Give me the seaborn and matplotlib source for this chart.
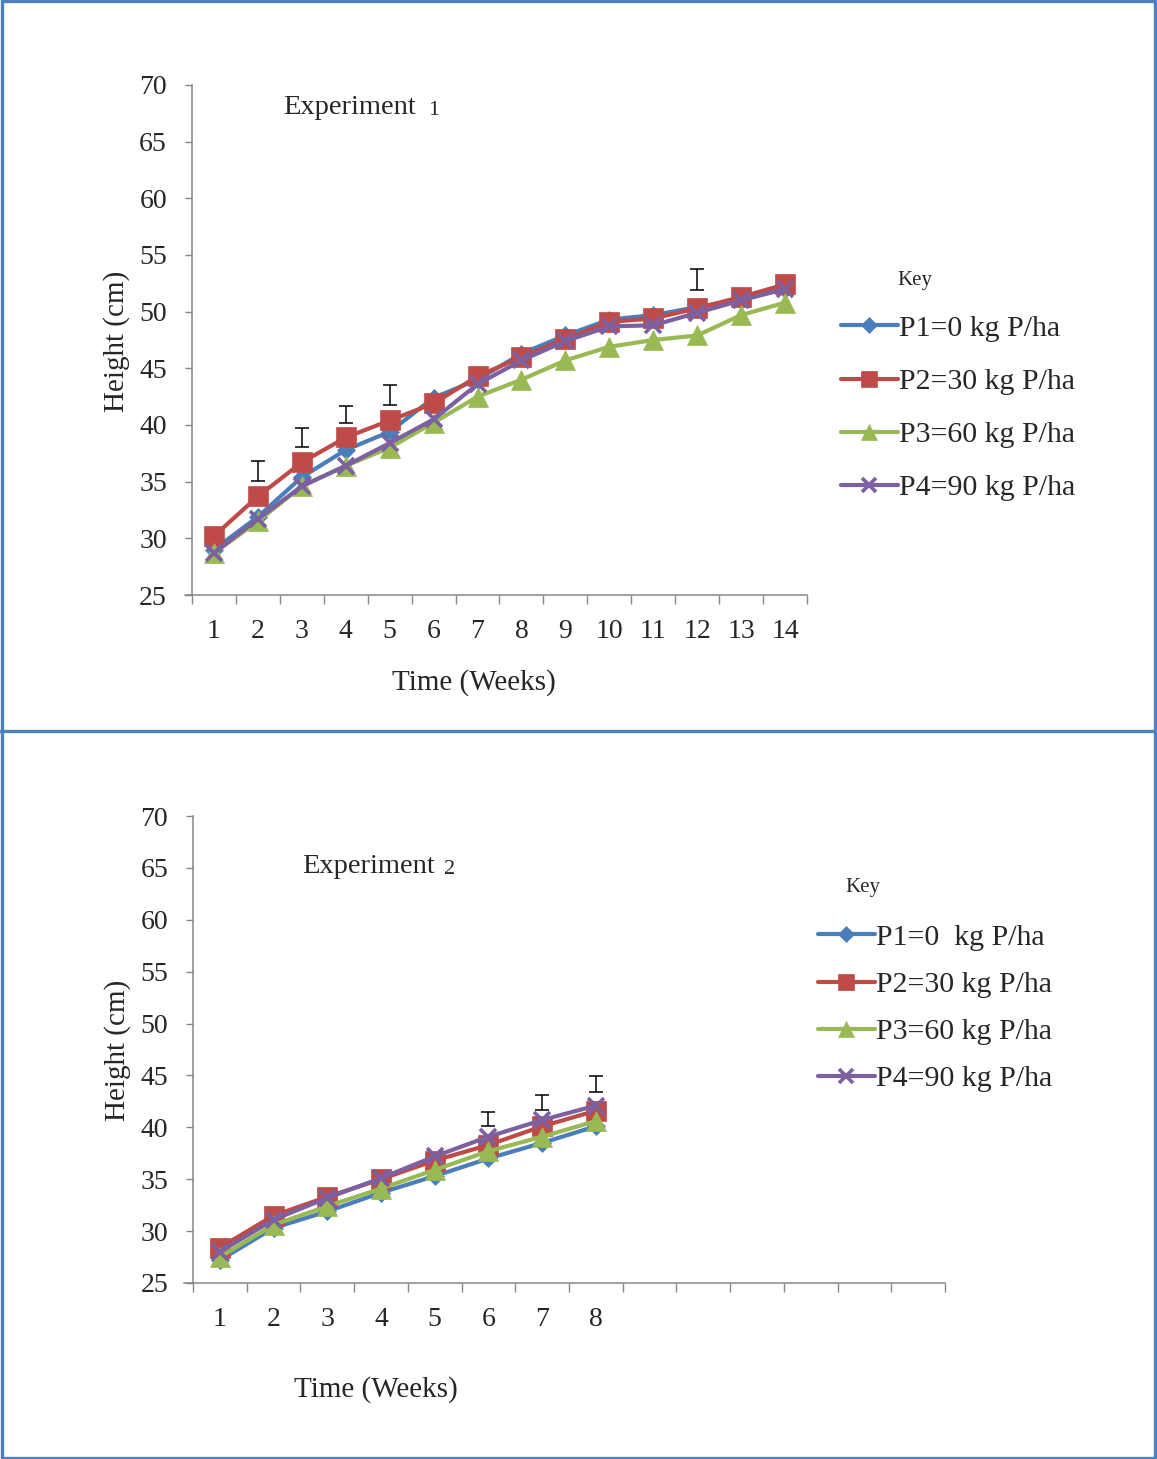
#!/usr/bin/env python
# Plant height over time for four P rates, two experiments

import numpy as np
import pandas as pd
import matplotlib
matplotlib.use("Agg")
import matplotlib.pyplot as plt
from matplotlib.lines import Line2D
import seaborn as sns

# ============================================
# DATA
# ============================================

TREATMENTS = ['P1', 'P2', 'P3', 'P4']
LABELS_1 = ['P1=0 kg P/ha', 'P2=30 kg P/ha', 'P3=60 kg P/ha', 'P4=90 kg P/ha']
LABELS_2 = ['P1=0  kg P/ha', 'P2=30 kg P/ha', 'P3=60 kg P/ha', 'P4=90 kg P/ha']

weeks_1 = list(range(1, 15))
p1_exp1 = [29.0, 31.9, 35.4, 37.8, 39.4, 42.4, 44.0, 46.3, 47.9, 49.3, 49.7, 50.4, 51.1, 52.0]
p2_exp1 = [30.2, 33.7, 36.7, 38.9, 40.4, 41.9, 44.3, 46.0, 47.6, 49.1, 49.4, 50.3, 51.3, 52.4]
p3_exp1 = [28.7, 31.5, 34.6, 36.4, 38.0, 40.2, 42.5, 44.0, 45.7, 46.9, 47.5, 47.9, 49.7, 50.8]
p4_exp1 = [28.7, 31.7, 34.6, 36.4, 38.4, 40.5, 43.6, 45.7, 47.4, 48.7, 48.8, 49.9, 51.0, 52.0]

# LSD bars, experiment 1 (week, low, high)
lsd_weeks_1 = [2, 3, 4, 5, 12]
lsd_low_1 = [35.1, 38.1, 40.2, 41.8, 51.9]
lsd_high_1 = [36.8, 39.7, 41.7, 43.5, 53.8]

weeks_2 = list(range(1, 9))
p1_exp2 = [27.2, 30.3, 31.9, 33.7, 35.3, 37.0, 38.5, 40.1]
p2_exp2 = [28.4, 31.5, 33.3, 35.0, 36.8, 38.3, 40.1, 41.6]
p3_exp2 = [27.5, 30.6, 32.4, 34.1, 35.9, 37.7, 39.1, 40.6]
p4_exp2 = [28.0, 31.1, 33.2, 35.1, 37.2, 39.1, 40.7, 42.1]

lsd_weeks_2 = [6, 7, 8]
lsd_low_2 = [40.1, 41.7, 43.4]
lsd_high_2 = [41.5, 43.1, 44.9]

# ============================================
# STYLE
# ============================================

COLORS = {'P1': '#4A7EBB', 'P2': '#BE4B48', 'P3': '#98B954', 'P4': '#7D60A0'}
MARKERS = {'P1': 'D', 'P2': 's', 'P3': '^', 'P4': 'x'}
MSIZE = {'P1': 9, 'P2': 14, 'P3': 14, 'P4': 12}
GREY = '#868686'
BORDER = '#4F81BD'

sns.set_style('white')
plt.rcParams['font.family'] = ['Liberation Serif', 'DejaVu Serif']


def long_table(weeks, series):
    rows = []
    for name, vals in zip(TREATMENTS, series):
        for w, v in zip(weeks, vals):
            rows.append({'Week': w, 'Height': v, 'Treatment': name})
    return pd.DataFrame(rows)


def draw_panel(ax, df, lsd_w, lsd_lo, lsd_hi, n_labels):
    for t in TREATMENTS:
        sub = df[df['Treatment'] == t]
        sns.lineplot(data=sub, x='Week', y='Height', ax=ax, color=COLORS[t],
                     marker=MARKERS[t], markersize=MSIZE[t], linewidth=3.0,
                     markeredgewidth=2.6 if t == 'P4' else 0.5,
                     markeredgecolor=COLORS[t], legend=False)
    mid = (np.array(lsd_lo) + np.array(lsd_hi)) / 2
    half = (np.array(lsd_hi) - np.array(lsd_lo)) / 2
    ax.errorbar(lsd_w, mid, yerr=half, fmt='none', ecolor='black',
                elinewidth=1.1, capsize=5, capthick=1.1, zorder=5)

    ax.set_xlim(0.5, 14.5)
    ax.set_ylim(25, 70)
    ax.set_yticks(range(25, 71, 5))
    ax.set_xticks(range(1, n_labels + 1))
    ax.set_xticks(np.arange(0.5, 14.6, 1), minor=True)
    ax.tick_params(axis='x', which='major', length=0, pad=17, labelsize=20)
    ax.tick_params(axis='x', which='minor', length=6.5, width=1, color=GREY,
                   direction='out', bottom=True)
    ax.tick_params(axis='y', length=5, width=1, color=GREY, direction='out',
                   left=True, pad=13, labelsize=20)
    for s in ['top', 'right']:
        ax.spines[s].set_visible(False)
    for s in ['left', 'bottom']:
        ax.spines[s].set_color(GREY)
        ax.spines[s].set_linewidth(1.1)
    ax.spines['bottom'].set_bounds(0.5 - 0.012 * 14, 14.5)
    ax.set_xlabel('')
    ax.set_ylabel('')


def legend_handles():
    return [Line2D([0], [0], color=COLORS[t], marker=MARKERS[t], linewidth=3.0,
                   markersize=MSIZE[t] * 0.85,
                   markeredgewidth=2.6 if t == 'P4' else 0.5,
                   markeredgecolor=COLORS[t]) for t in TREATMENTS]


fig = plt.figure(figsize=(11.57, 14.59), dpi=100)

# ---- Experiment 1
ax1 = fig.add_axes([192 / 1157, 1 - 595 / 1459, 615 / 1157, 510 / 1459])
df1 = long_table(weeks_1, [p1_exp1, p2_exp1, p3_exp1, p4_exp1])
draw_panel(ax1, df1, lsd_weeks_1, lsd_low_1, lsd_high_1, 14)
ax1.set_xlabel('Time (Weeks)', fontsize=21, va='center')
ax1.xaxis.set_label_coords(0.459, -0.171)
ax1.set_ylabel('Height (cm)', fontsize=21, va='center')
ax1.yaxis.set_label_coords(-0.122, 0.498)
ax1.text(0.148, 0.955, 'Experiment', transform=ax1.transAxes, fontsize=20.5,
         va='center', ha='left')
ax1.text(0.384, 0.950, '1', transform=ax1.transAxes, fontsize=16,
         va='center', ha='left')

fig.text(897 / 1157, 1 - 280 / 1459, 'Key', fontsize=15, va='center', ha='left')
fig.legend(legend_handles(), LABELS_1, loc='upper left',
           bbox_to_anchor=(826 / 1157, 1 - 300 / 1459), frameon=False,
           fontsize=21.5, handlelength=1.9, handletextpad=0.05,
           labelspacing=0.88, borderpad=0)

# ---- Experiment 2
ax2 = fig.add_axes([193 / 1157, 1 - 1283 / 1459, 752 / 1157, 467 / 1459])
df2 = long_table(weeks_2, [p1_exp2, p2_exp2, p3_exp2, p4_exp2])
draw_panel(ax2, df2, lsd_weeks_2, lsd_low_2, lsd_high_2, 8)
ax2.set_xlabel('Time (Weeks)', fontsize=21, va='center')
ax2.xaxis.set_label_coords(0.243, -0.229)
ax2.set_ylabel('Height (cm)', fontsize=21, va='center')
ax2.yaxis.set_label_coords(-0.101, 0.499)
ax2.text(0.145, 0.891, 'Experiment', transform=ax2.transAxes, fontsize=20.5,
         va='center', ha='left')
ax2.text(0.334, 0.886, '2', transform=ax2.transAxes, fontsize=16,
         va='center', ha='left')

fig.text(845 / 1157, 1 - 887 / 1459, 'Key', fontsize=15, va='center', ha='left')
fig.legend(legend_handles(), LABELS_2, loc='upper left',
           bbox_to_anchor=(803 / 1157, 1 - 909 / 1459), frameon=False,
           fontsize=21.5, handlelength=1.9, handletextpad=0.05,
           labelspacing=0.68, borderpad=0)

# ---- panel borders
fig.add_artist(plt.Rectangle((0.0015, 0.001), 0.997, 0.998, transform=fig.transFigure,
                             fill=False, edgecolor=BORDER, linewidth=2.4))
fig.add_artist(Line2D([0, 1], [1 - 731 / 1459] * 2, transform=fig.transFigure,
                      color=BORDER, linewidth=2.4))

plt.savefig('out.png', dpi=100)
